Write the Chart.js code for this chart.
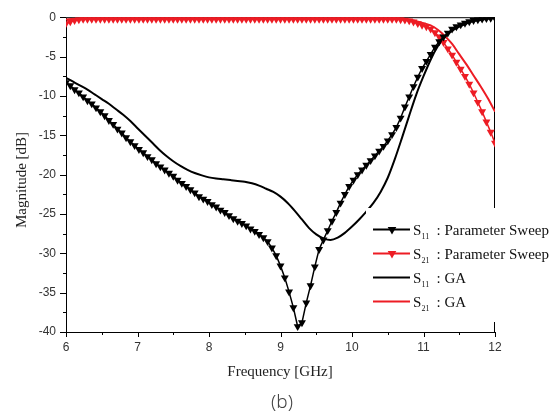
<!DOCTYPE html>
<html>
<head>
<meta charset="utf-8">
<script src="https://cdn.jsdelivr.net/npm/chart.js@4.4.1/dist/chart.umd.min.js"></script>
<style>
  html, body { margin: 0; padding: 0; background: #fff; }
  #graphCanvas { display: block; }
</style>
</head>
<body>
<canvas id="graphCanvas" width="557" height="416"></canvas>
<script>
// frequency grids (GHz)
var freqSweep = [];
for (var i = 0; i <= 100; i++) freqSweep.push(+(6 + i * 0.06).toFixed(2));
var freqGA = [];
for (var j = 0; j <= 60; j++) freqGA.push(+(6 + j * 0.1).toFixed(1));

// S11 : Parameter Sweep (dB), on freqSweep
var s11Sweep = [
  -8.3, -8.7, -9.2, -9.6, -10.1, -10.6, -11.0, -11.5, -12.0, -12.5,
  -13.1, -13.6, -14.2, -14.7, -15.3, -15.8, -16.3, -16.8, -17.2, -17.7,
  -18.1, -18.6, -19.0, -19.4, -19.8, -20.2, -20.7, -21.1, -21.5, -21.9,
  -22.3, -22.8, -23.1, -23.4, -23.8, -24.1, -24.5, -24.8, -25.2, -25.6,
  -25.9, -26.2, -26.5, -26.9, -27.2, -27.6, -28.0, -28.5, -29.3, -30.3,
  -31.6, -33.1, -34.9, -36.9, -39.3, -38.8, -36.3, -34.1, -31.7, -29.5,
  -28.3, -27.1, -25.9, -24.8, -23.6, -22.5, -21.5, -20.7, -20.0, -19.4,
  -18.8, -18.2, -17.6, -17.0, -16.4, -15.7, -14.9, -14.0, -12.8, -11.4,
  -10.1, -8.8, -7.6, -6.5, -5.6, -4.7, -3.8, -3.1, -2.5, -2.0,
  -1.5, -1.2, -0.95, -0.75, -0.55, -0.4, -0.3, -0.22, -0.16, -0.12,
  -0.1
];

// S21 : Parameter Sweep (dB), on freqSweep
var s21Sweep = [
  -0.8, -0.55, -0.4, -0.3, -0.25, -0.25, -0.25, -0.25, -0.25, -0.25,
  -0.25, -0.25, -0.25, -0.25, -0.25, -0.25, -0.25, -0.25, -0.25, -0.25,
  -0.25, -0.25, -0.25, -0.25, -0.25, -0.25, -0.25, -0.25, -0.25, -0.25,
  -0.25, -0.25, -0.25, -0.25, -0.25, -0.25, -0.25, -0.25, -0.25, -0.25,
  -0.25, -0.25, -0.25, -0.25, -0.25, -0.25, -0.25, -0.25, -0.25, -0.25,
  -0.25, -0.25, -0.25, -0.25, -0.25, -0.25, -0.25, -0.25, -0.25, -0.25,
  -0.25, -0.25, -0.25, -0.25, -0.25, -0.25, -0.25, -0.25, -0.25, -0.25,
  -0.25, -0.25, -0.25, -0.25, -0.25, -0.25, -0.25, -0.25, -0.3, -0.35,
  -0.45, -0.6, -0.8, -1.0, -1.2, -1.5, -1.95, -2.5, -3.2, -4.0,
  -4.8, -5.7, -6.6, -7.5, -8.5, -9.6, -10.8, -12.0, -13.3, -14.6,
  -16.0
];

// S11 : GA (dB), on freqGA
var s11GA = [
  -7.7, -8.2, -8.7, -9.2, -9.8, -10.4, -11.0, -11.7, -12.4, -13.2,
  -14.1, -15.0, -15.9, -16.8, -17.6, -18.3, -18.9, -19.4, -19.8, -20.1,
  -20.35, -20.5, -20.6, -20.7, -20.8, -20.9, -21.1, -21.4, -21.8, -22.2,
  -22.8, -23.6, -24.6, -25.7, -26.8, -27.6, -28.1, -28.3, -28.0, -27.4,
  -26.6, -25.7, -24.7, -23.6, -22.2, -20.4, -18.0, -15.3, -12.5, -9.8,
  -7.5, -5.4, -3.7, -2.5, -1.7, -1.2, -0.8, -0.5, -0.35, -0.2,
  -0.1
];

// S21 : GA (dB), on freqGA
var s21GA = [
  -0.3, -0.2, -0.15, -0.15, -0.15, -0.15, -0.15, -0.15, -0.15, -0.15,
  -0.15, -0.15, -0.15, -0.15, -0.15, -0.15, -0.15, -0.15, -0.15, -0.15,
  -0.15, -0.15, -0.15, -0.15, -0.15, -0.15, -0.15, -0.15, -0.15, -0.15,
  -0.15, -0.15, -0.15, -0.15, -0.15, -0.15, -0.15, -0.15, -0.15, -0.15,
  -0.15, -0.15, -0.15, -0.15, -0.15, -0.15, -0.15, -0.2, -0.3, -0.5,
  -0.75, -1.05, -1.6, -2.4, -3.4, -4.7, -6.0, -7.4, -8.8, -10.3,
  -12.0
];

var xTicks = [6, 7, 8, 9, 10, 11, 12];
var yTicks = [0, -5, -10, -15, -20, -25, -30, -35, -40];

var legendItems = [
  { sub: '11', text: ': Parameter Sweep', color: '#000000', marker: true },
  { sub: '21', text: ': Parameter Sweep', color: '#ed1c24', marker: true },
  { sub: '11', text: ': GA', color: '#000000', marker: false },
  { sub: '21', text: ': GA', color: '#ed1c24', marker: false }
];

function pairs(xs, ys) {
  var out = [];
  for (var k = 0; k < ys.length; k++) out.push({ x: xs[k], y: ys[k] });
  return out;
}

function triangleDown(ctx, x, y, r) {
  ctx.beginPath();
  ctx.moveTo(x, y + r);
  ctx.lineTo(x - r * 0.866, y - r / 2);
  ctx.lineTo(x + r * 0.866, y - r / 2);
  ctx.closePath();
  ctx.fill();
}

var serif = "'Liberation Serif', 'Times New Roman', serif";

var framePlugin = {
  id: 'frame',
  beforeDatasetsDraw: function(chart) {
    var ctx = chart.ctx, ca = chart.chartArea;
    var xs = chart.scales.x, ys = chart.scales.y;
    ctx.save();
    ctx.strokeStyle = '#000';
    ctx.lineWidth = 1;
    ctx.strokeRect(ca.left + 0.5, ca.top + 0.5, ca.width - 1, ca.height);
    ctx.beginPath();
    for (var v = 6; v <= 12.001; v += 0.5) {
      var px = Math.round(xs.getPixelForValue(v)) + 0.5;
      var len = (Math.abs(v - Math.round(v)) < 0.01) ? 5 : 3;
      ctx.moveTo(px, ca.bottom);
      ctx.lineTo(px, ca.bottom + len);
    }
    for (var w = -40; w <= 0.001; w += 2.5) {
      var py = Math.round(ys.getPixelForValue(w)) + 0.5;
      var l2 = (Math.abs(w % 5) < 0.01) ? 6 : 3;
      ctx.moveTo(ca.left, py);
      ctx.lineTo(ca.left - l2, py);
    }
    ctx.stroke();
    ctx.restore();
  },
  afterDraw: function(chart) {
    var ctx = chart.ctx;
    ctx.save();
    // axis titles and caption
    ctx.fillStyle = '#222';
    ctx.font = '15px ' + serif;
    ctx.textAlign = 'center';
    ctx.textBaseline = 'middle';
    ctx.fillText('Frequency [GHz]', 280, 372);
    ctx.save();
    ctx.translate(22, 180);
    ctx.rotate(-Math.PI / 2);
    ctx.fillText('Magnitude [dB]', 0, 0);
    ctx.restore();
    ctx.fillStyle = '#444';
    ctx.font = "300 19px 'Noto Sans', 'DejaVu Sans', sans-serif";
    ctx.fillText('(b)', 282, 403);

    // legend
    ctx.fillStyle = '#fff';
    ctx.fillRect(366, 208, 191, 114);
    ctx.textAlign = 'left';
    ctx.textBaseline = 'alphabetic';
    for (var n = 0; n < legendItems.length; n++) {
      var it = legendItems[n];
      var cy = 229.5 + n * 24;
      ctx.strokeStyle = it.color;
      ctx.lineWidth = 2;
      ctx.beginPath();
      ctx.moveTo(373, cy);
      ctx.lineTo(410, cy);
      ctx.stroke();
      if (it.marker) {
        ctx.fillStyle = it.color;
        triangleDown(ctx, 392, cy, 5);
      }
      ctx.fillStyle = '#111';
      ctx.font = '15px ' + serif;
      ctx.fillText('S', 413, cy + 5.5);
      ctx.font = '8px ' + serif;
      ctx.fillText(it.sub, 421.5, cy + 9);
      ctx.font = '15px ' + serif;
      ctx.fillText(it.text, 436.5, cy + 5.5);
    }
    ctx.restore();
  }
};

var graphTarget = document.getElementById('graphCanvas');

var chart = new Chart(graphTarget, {
  type: 'line',
  data: {
    datasets: [{
      label: 'S11 : Parameter Sweep',
      data: pairs(freqSweep, s11Sweep),
      borderColor: '#000',
      backgroundColor: '#000',
      borderWidth: 1.5,
      pointStyle: 'triangle',
      rotation: 180,
      pointRadius: 4.6,
      pointBorderWidth: 0,
      tension: 0
    }, {
      label: 'S21 : Parameter Sweep',
      data: pairs(freqSweep, s21Sweep),
      borderColor: '#ed1c24',
      backgroundColor: '#ed1c24',
      borderWidth: 1.5,
      pointStyle: 'triangle',
      rotation: 180,
      pointRadius: 4.6,
      pointBorderWidth: 0,
      tension: 0
    }, {
      label: 'S11 : GA',
      data: pairs(freqGA, s11GA),
      borderColor: '#000',
      borderWidth: 2,
      pointRadius: 0,
      cubicInterpolationMode: 'monotone'
    }, {
      label: 'S21 : GA',
      data: pairs(freqGA, s21GA),
      borderColor: '#ed1c24',
      borderWidth: 2,
      pointRadius: 0,
      cubicInterpolationMode: 'monotone'
    }]
  },
  options: {
    responsive: false,
    animation: false,
    devicePixelRatio: 1,
    layout: { padding: { left: 0, top: 15, right: 62, bottom: 0 } },
    plugins: {
      legend: { display: false },
      tooltip: { enabled: false }
    },
    scales: {
      x: {
        type: 'linear',
        min: 6,
        max: 12,
        afterFit: function(s) { s.height = 84; },
        afterBuildTicks: function(s) { s.ticks = xTicks.map(function(v) { return { value: v }; }); },
        grid: { display: false, drawTicks: false },
        border: { display: false },
        ticks: {
          padding: 8,
          color: '#333',
          font: { family: "'Liberation Sans', Arial, sans-serif", size: 12 }
        }
      },
      y: {
        min: -40,
        max: 0,
        afterFit: function(s) { s.width = 66; },
        afterBuildTicks: function(s) { s.ticks = yTicks.map(function(v) { return { value: v }; }); },
        grid: { display: false, drawTicks: false },
        border: { display: false },
        ticks: {
          padding: 10,
          color: '#333',
          font: { family: "'Liberation Sans', Arial, sans-serif", size: 12 }
        }
      }
    }
  },
  plugins: [framePlugin]
});
</script>
</body>
</html>
